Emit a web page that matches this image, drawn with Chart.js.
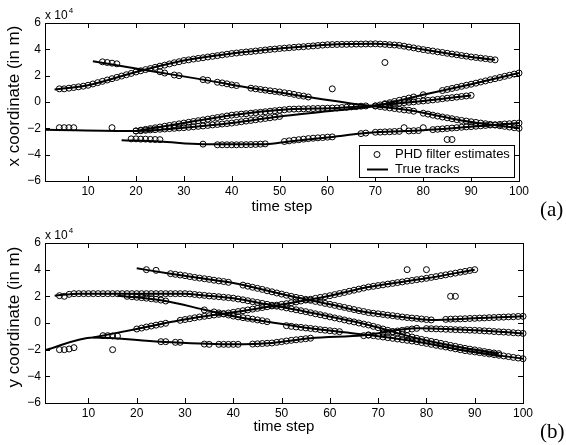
<!DOCTYPE html>
<html>
<head>
<meta charset="utf-8">
<script src="https://cdn.jsdelivr.net/npm/chart.js@4.4.1/dist/chart.umd.min.js"></script>
<style>
  html, body { margin: 0; padding: 0; background: #fff; }
  #wrap { position: relative; width: 566px; height: 445px; overflow: hidden; }
  canvas { position: absolute; left: 0; }
  #panelA { top: 0; }
  #panelB { top: 222px; }
</style>
</head>
<body>
<div id="wrap">
  <canvas id="panelA" width="566" height="222"></canvas>
  <canvas id="panelB" width="566" height="223"></canvas>
</div>
<script>
// axis ticks
const xTicks = [10, 20, 30, 40, 50, 60, 70, 80, 90, 100];
const yTicks = [-6, -4, -2, 0, 2, 4, 6];

// ---- panel (a): x coordinate, values in units of 1e4 m ----
// true tracks: [time step, value]
const xTrack1 = [[3, 0.95], [10, 1.27], [20, 2.28], [30, 3.15], [40, 3.68], [50, 4.06], [60, 4.35], [70, 4.42], [75, 4.3], [80, 3.98], [90, 3.42], [95, 3.2]];
const xTrack2 = [[11, 3.1], [24, 2.3], [34, 1.7], [45, 1.0], [56, 0.38], [68, -0.25], [77, -0.63], [88, -1.4], [100, -2.0]];
const xTrack3 = [[1, -2.1], [20, -2.2], [30, -1.95], [40, -1.6], [50, -1.1], [60, -0.7], [70, -0.3], [80, 0.55], [90, 1.35], [100, 2.2]];
const xTrack4 = [[20, -2.2], [30, -1.6], [40, -1.0], [52, -0.55], [62, -0.45], [70, -0.25], [80, 0.08], [90, 0.5]];
const xTrack5 = [[17, -2.9], [25, -3.0], [34, -3.2], [47, -3.2], [52, -3.0], [61, -2.65], [67, -2.4], [70, -2.3], [80, -2.15], [100, -1.6]];

// PHD filter estimates: [first time step, consecutive values]
const xEst1 = [[4, [1.0, 1.0, 1.05, 1.1, 1.15, 1.2,
  1.27, 1.37, 1.47, 1.57, 1.67, 1.77, 1.87, 1.97, 2.07, 2.17,
  2.28, 2.37, 2.46, 2.54, 2.63, 2.72, 2.8, 2.89, 2.98, 3.06,
  3.15, 3.2, 3.26, 3.31, 3.36, 3.42, 3.47, 3.52, 3.58, 3.63,
  3.68, 3.72, 3.76, 3.8, 3.83, 3.87, 3.91, 3.95, 3.99, 4.02,
  4.06, 4.09, 4.12, 4.15, 4.18, 4.2, 4.23, 4.26, 4.29, 4.32,
  4.35, 4.36, 4.37, 4.38, 4.38, 4.39, 4.4, 4.4, 4.41, 4.41,
  4.42, 4.4, 4.38, 4.35, 4.33, 4.3, 4.24, 4.17, 4.11, 4.04,
  3.98, 3.92, 3.87, 3.81, 3.76, 3.7, 3.64, 3.59, 3.53, 3.48,
  3.42, 3.38, 3.33, 3.29, 3.24, 3.2]]];
const xEst2 = [[13, [3.05, 3.0, 2.95, 2.9]], [25, [2.3, 2.2]], [28, [2.05, 2.0]], [34, [1.7, 1.65]],
  [37, [1.5, 1.45, 1.38, 1.3, 1.25]],
  [44, [1.05, 1.0, 0.95, 0.9, 0.85, 0.8, 0.76, 0.7, 0.65, 0.58, 0.5, 0.45, 0.38]],
  [70, [-0.3, -0.35, -0.4, -0.45, -0.5, -0.55, -0.6, -0.63, -0.7]],
  [80, [-0.85, -0.92, -1.0, -1.07, -1.14, -1.2, -1.27, -1.34, -1.4, -1.45,
    -1.5, -1.55, -1.6, -1.65, -1.7, -1.75, -1.8, -1.85, -1.9, -1.95, -2.0]]];
const xEst3 = [[4, [-1.95, -1.95, -1.95, -1.95]], [15, [-1.95]],
  [20, [-2.2, -2.18, -2.15, -2.12, -2.1, -2.07, -2.05, -2.02, -2.0, -1.97,
    -1.95, -1.92, -1.88, -1.85, -1.82, -1.78, -1.74, -1.71, -1.67, -1.64,
    -1.6, -1.55, -1.5, -1.45, -1.4, -1.35, -1.3, -1.25, -1.2, -1.15, -1.1]],
  [70, [-0.3, -0.22, -0.13, -0.05, 0.04, 0.13, 0.21, 0.3, 0.38]], [80, [0.55]],
  [84, [0.87, 0.95, 1.03, 1.11, 1.19, 1.27, 1.35, 1.43, 1.52, 1.6, 1.69, 1.77, 1.86, 1.95, 2.03, 2.12, 2.2]]];
const xEst4 = [[20, [-2.2, -2.14, -2.08, -2.02, -1.96, -1.9, -1.84, -1.78, -1.72, -1.66,
    -1.6, -1.54, -1.48, -1.42, -1.36, -1.3, -1.24, -1.18, -1.12, -1.06,
    -1.0, -0.96, -0.92, -0.89, -0.85, -0.81, -0.78, -0.74, -0.7, -0.66,
    -0.62, -0.59, -0.55, -0.54, -0.53, -0.52, -0.51, -0.5, -0.49, -0.48,
    -0.47, -0.46, -0.45, -0.42, -0.4, -0.37, -0.35, -0.32, -0.3]],
  [72, [-0.18, -0.15, -0.12, -0.09, -0.05, -0.02, 0.01, 0.05, 0.08, 0.12,
    0.16, 0.2, 0.25, 0.29, 0.33, 0.37, 0.42, 0.46, 0.5]]];
const xEst5 = [[19, [-2.8, -2.8, -2.82, -2.82, -2.84, -2.85, -2.86]], [34, [-3.2]],
  [37, [-3.25, -3.25, -3.25, -3.25, -3.25, -3.24, -3.24, -3.23, -3.22, -3.2, -3.18]],
  [51, [-3.0, -2.95, -2.9, -2.86, -2.82, -2.78, -2.75, -2.72, -2.7, -2.67, -2.65]],
  [67, [-2.4, -2.36]],
  [70, [-2.3, -2.29, -2.27, -2.26, -2.24, -2.23, -1.95, -2.2, -2.18, -2.17, -1.95]],
  [82, [-2.1, -2.07, -2.04, -2.01, -1.98, -1.95, -1.92, -1.89, -1.87, -1.84,
    -1.81, -1.78, -1.75, -1.73, -1.7, -1.67, -1.65, -1.62, -1.6]]];
const xClutter = [[61, 1.0], [72, 3.0], [85, -2.85], [86, -2.85]];

// ---- panel (b): y coordinate ----
const yTrack1 = [[3, 2.05], [8, 2.2], [30, 2.2], [33, 2.1], [40, 1.86], [47, 1.4], [55, 0.85], [68, -0.15], [78, -1.15], [88, -1.9], [95, -2.3]];
const yTrack2 = [[16, 2.05], [25, 1.7], [34, 1.0], [40, 0.5], [47, 0.1], [55, -0.35], [62, -0.65], [68, -0.9], [78, -1.4], [88, -2.07], [100, -2.68]];
const yTrack3 = [[1, -2.05], [11, -1.08], [25, -1.4], [40, -1.6], [48, -1.5], [56, -1.15], [67, -0.92], [78, -0.4], [90, -0.55], [100, -0.78]];
const yTrack4 = [[20, 4.1], [27, 3.7], [33, 3.37], [40, 3.0], [52, 2.0], [60, 1.4], [68, 0.78], [75, 0.45], [81, 0.23], [90, 0.35], [100, 0.5]];
const yTrack5 = [[11, -1.08], [20, -0.45], [29, 0.2], [33, 0.45], [40, 0.8], [51, 1.45], [60, 2.05], [68, 2.7], [80, 3.35], [90, 4.0]];

const yEst1 = [[4, [2.05, 2.0, 2.15, 2.2, 2.2, 2.2,
  2.2, 2.2, 2.2, 2.2, 2.2, 2.2, 2.2, 2.2, 2.2, 2.2,
  2.2, 2.2, 2.2, 2.2, 2.2, 2.2, 2.2, 2.2, 2.2, 2.2,
  2.2, 2.18, 2.14, 2.1, 2.07, 2.03, 2.0, 1.97, 1.93, 1.9,
  1.86, 1.8, 1.74, 1.67, 1.6, 1.54, 1.47, 1.4, 1.33, 1.26,
  1.2, 1.13, 1.06, 0.99, 0.92, 0.85, 0.77, 0.69, 0.62, 0.54,
  0.46, 0.38, 0.31, 0.23, 0.15, 0.08, 0.0, -0.08, -0.15, -0.25,
  -0.35, -0.45, -0.55, -0.65, -0.75, -0.85, -0.95, -1.05, -1.15, -1.23,
  -1.3, -1.38, -1.45, -1.53, -1.6, -1.68, -1.75, -1.83, -1.9, -1.96,
  -2.02, -2.08, -2.14, -2.2, -2.25, -2.3]]];
const yEst2 = [[18, [2.0, 1.97, 1.93, 1.9, 1.86, 1.82, 1.78, 1.72, 1.65]], [34, [0.98]],
  [36, [0.83, 0.76, 0.68, 0.6, 0.52, 0.46, 0.4, 0.35, 0.29, 0.23, 0.17, 0.1]],
  [51, [-0.2, -0.25, -0.3, -0.33, -0.37, -0.41, -0.45, -0.5, -0.54, -0.58, -0.62, -0.65]],
  [68, [-0.9, -0.95,
    -1.0, -1.05, -1.1, -1.15, -1.2, -1.25, -1.3, -1.35, -1.4, -1.47,
    -1.53, -1.6, -1.67, -1.74, -1.8, -1.87, -1.94, -2.0, -2.07, -2.12,
    -2.17, -2.22, -2.27, -2.32, -2.37, -2.42, -2.47, -2.52, -2.58, -2.63, -2.68]]];
const yEst3 = [[4, [-2.0, -2.0, -1.95, -1.85]], [13, [-0.95, -0.95, -0.97, -0.98]],
  [25, [-1.4, -1.4]], [28, [-1.45, -1.45]], [34, [-1.58, -1.6]], [37, [-1.6, -1.6, -1.6, -1.6, -1.6]],
  [44, [-1.58, -1.56, -1.54, -1.52, -1.5, -1.45, -1.4, -1.35, -1.3, -1.26, -1.22, -1.18, -1.14]],
  [67, [-0.95, -0.9]], [71, [-0.75, -0.7, -0.65, -0.6, -0.55, -0.5, -0.45, -0.4]],
  [80, [-0.42, -0.43, -0.44, -0.45, -0.47, -0.48, -0.5, -0.51, -0.52, -0.54,
    -0.55, -0.57, -0.59, -0.61, -0.64, -0.66, -0.68, -0.7, -0.73, -0.75, -0.78]]];
const yEst4 = [[22, [4.0]], [24, [3.95]],
  [27, [3.7, 3.65, 3.6, 3.55, 3.48, 3.42, 3.37, 3.32, 3.27, 3.21, 3.16, 3.11, 3.05]],
  [42, [2.84, 2.76, 2.68, 2.6, 2.52, 2.42, 2.34, 2.25,
    2.17, 2.08, 2.0, 1.92, 1.85, 1.77, 1.7, 1.62, 1.55, 1.47,
    1.4, 1.32, 1.24, 1.17, 1.09, 1.01, 0.93, 0.86, 0.78, 0.73,
    0.69, 0.64, 0.59, 0.55, 0.5, 0.45, 0.41, 0.37, 0.34, 0.3, 0.26, 0.23]],
  [84, [0.27, 0.29, 0.3, 0.31, 0.32, 0.34, 0.35, 0.37, 0.38, 0.4, 0.41, 0.43, 0.44, 0.46, 0.47, 0.49, 0.5]]];
const yEst5 = [[20, [-0.45, -0.38, -0.3, -0.23, -0.16, -0.09, -0.02]],
  [29, [0.2, 0.26, 0.32, 0.39, 0.45, 0.5, 0.55, 0.6, 0.65, 0.7, 0.75]],
  [40, [0.8, 0.86, 0.92, 0.98, 1.04, 1.1, 1.16, 1.22, 1.28, 1.34,
    1.4, 1.45, 1.52, 1.58, 1.65, 1.72, 1.78, 1.85, 1.92, 1.98,
    2.05, 2.13, 2.21, 2.29, 2.38, 2.46, 2.54, 2.62, 2.7, 2.75,
    2.81, 2.86, 2.92, 2.97, 3.03, 3.08, 3.14, 3.19, 3.25, 3.3,
    3.35, 3.42, 3.48, 3.55, 3.61, 3.68, 3.74, 3.81, 3.87, 3.94, 4.0]]];
const yClutter = [[15, -2.0], [76, 4.0], [80, 4.0], [85, 2.0], [86, 2.0]];

const FONT = '"Liberation Sans", Arial, Helvetica, sans-serif';
Chart.defaults.font.family = FONT;
Chart.defaults.color = '#000';

function expand(segments) {
  const pts = [];
  segments.forEach(([t0, vals]) => vals.forEach((v, i) => pts.push({ x: t0 + i, y: v })));
  return pts;
}

function toPoints(pairs) {
  return pairs.map(([t, v]) => ({ x: t, y: v }));
}

function fmtTick(v) {
  return v < 0 ? '\u2212' + Math.abs(v) : String(v);
}

// frame with inward ticks, exponent label, y label, panel letter and legend
function panelDecor(o) {
  return {
    id: 'decor',
    afterDraw(chart) {
      const { ctx, chartArea: a, scales } = chart;
      ctx.save();
      ctx.strokeStyle = '#000';
      ctx.lineWidth = 1;
      ctx.strokeRect(Math.round(a.left) + 0.5, Math.round(a.top) + 0.5,
        Math.round(a.right - a.left), Math.round(a.bottom - a.top));
      ctx.beginPath();
      xTicks.forEach(v => {
        const px = Math.round(scales.x.getPixelForValue(v)) + 0.5;
        ctx.moveTo(px, a.bottom); ctx.lineTo(px, a.bottom - 5);
        ctx.moveTo(px, a.top); ctx.lineTo(px, a.top + 5);
      });
      yTicks.forEach(v => {
        const py = Math.round(scales.y.getPixelForValue(v)) + 0.5;
        ctx.moveTo(a.left, py); ctx.lineTo(a.left + 5, py);
        ctx.moveTo(a.right, py); ctx.lineTo(a.right - 5, py);
      });
      ctx.stroke();

      // x 10^4
      ctx.fillStyle = '#000';
      ctx.textBaseline = 'alphabetic';
      ctx.textAlign = 'left';
      ctx.font = '12px ' + FONT;
      ctx.fillText('x 10', 45, a.top - 4);
      const w = ctx.measureText('x 10').width;
      ctx.font = '8px ' + FONT;
      ctx.fillText('4', 45 + w + 1, a.top - 10);

      // y axis label
      ctx.save();
      ctx.translate(14.5, (a.top + a.bottom) / 2 - 6);
      ctx.rotate(-Math.PI / 2);
      ctx.textAlign = 'center';
      ctx.textBaseline = 'middle';
      ctx.font = '17px ' + FONT;
      ctx.fillText(o.yLabel, 0, 0);
      ctx.restore();

      // panel letter
      ctx.font = '21px "Liberation Serif", "Times New Roman", serif';
      ctx.textAlign = 'left';
      ctx.textBaseline = 'middle';
      ctx.fillText(o.letter, o.letterX, o.letterY);

      if (o.legend) {
        const L = o.legend;
        ctx.fillStyle = '#fff';
        ctx.fillRect(L.x, L.y, L.w, L.h);
        ctx.strokeRect(L.x + 0.5, L.y + 0.5, L.w, L.h);
        ctx.beginPath();
        ctx.arc(L.x + 18, L.y + 9.5, 3, 0, Math.PI * 2);
        ctx.stroke();
        ctx.beginPath();
        ctx.lineWidth = 2;
        ctx.moveTo(L.x + 8, L.y + 24.5);
        ctx.lineTo(L.x + 29, L.y + 24.5);
        ctx.stroke();
        ctx.fillStyle = '#000';
        ctx.font = '13px ' + FONT;
        ctx.fillText('PHD filter estimates', L.x + 36, L.y + 9.5);
        ctx.fillText('True tracks', L.x + 36, L.y + 24.5);
      }
      ctx.restore();
    }
  };
}

function buildPanel(canvas, o) {
  const datasets = o.tracks.map(tr => ({
    data: toPoints(tr),
    showLine: true,
    borderColor: '#000',
    borderWidth: 2,
    pointRadius: 0,
    cubicInterpolationMode: 'monotone',
    order: 1
  }));
  datasets.push({
    data: o.estimates.flatMap(expand).concat(toPoints(o.clutter)),
    showLine: false,
    pointRadius: 3,
    pointBorderWidth: 1,
    borderColor: '#000',
    pointBorderColor: '#000',
    pointBackgroundColor: 'rgba(0,0,0,0)',
    clip: false,
    order: 0
  });

  return new Chart(canvas, {
    type: 'scatter',
    data: { datasets },
    options: {
      responsive: false,
      animation: false,
      devicePixelRatio: 1,
      layout: { padding: { left: 0, top: o.padTop, right: o.padRight, bottom: 0 } },
      plugins: { legend: { display: false }, tooltip: { enabled: false } },
      scales: {
        x: {
          type: 'linear', min: 1, max: 100,
          afterBuildTicks: s => { s.ticks = xTicks.map(v => ({ value: v })); },
          afterFit: s => { s.height = o.xHeight; },
          grid: { display: false, drawTicks: false },
          border: { display: false },
          ticks: { font: { size: 12 }, padding: 3, maxRotation: 0, color: '#000' },
          title: { display: true, text: 'time step', font: { size: 15 }, color: '#000',
                   padding: { top: 0, bottom: o.titlePad } }
        },
        y: {
          type: 'linear', min: -6, max: 6,
          afterBuildTicks: s => { s.ticks = yTicks.map(v => ({ value: v })); },
          afterFit: s => { s.width = 45; },
          grid: { display: false, drawTicks: false },
          border: { display: false },
          ticks: { font: { size: 12 }, padding: 4, color: '#000', callback: v => fmtTick(v) }
        }
      }
    },
    plugins: [panelDecor(o)]
  });
}

buildPanel(document.getElementById('panelA'), {
  tracks: [xTrack1, xTrack2, xTrack3, xTrack4, xTrack5],
  estimates: [xEst1, xEst2, xEst3, xEst4, xEst5],
  clutter: xClutter,
  padTop: 23, padRight: 47, xHeight: 41, titlePad: 6,
  yLabel: 'x coordinate (in m)',
  letter: '(a)', letterX: 540, letterY: 210,
  legend: { x: 359, y: 145, w: 155, h: 32 }
});

buildPanel(document.getElementById('panelB'), {
  tracks: [yTrack1, yTrack2, yTrack3, yTrack4, yTrack5],
  estimates: [yEst1, yEst2, yEst3, yEst4, yEst5],
  clutter: yClutter,
  padTop: 21, padRight: 43, xHeight: 42, titlePad: 9,
  yLabel: 'y coordinate (in m)',
  letter: '(b)', letterX: 540, letterY: 210,
  legend: null
});
</script>
</body>
</html>
